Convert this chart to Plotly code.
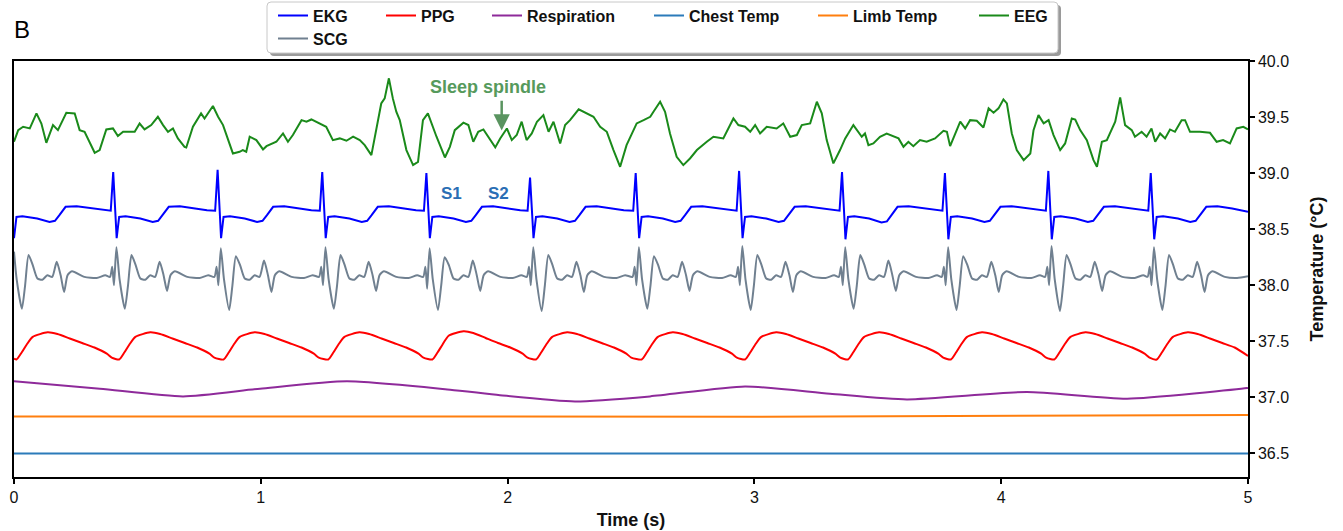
import plotly.graph_objects as go

FONT = "Liberation Sans, Arial, Helvetica, sans-serif"

# ---------------- data (time in s, values on the temperature axis in degC) ----------------
eeg_t = [0.000, 0.017, 0.037, 0.064, 0.091, 0.111, 0.131, 0.158, 0.178, 0.212, 0.246, 0.266, 0.286, 0.327, 0.347,
         0.374, 0.401, 0.421, 0.442, 0.489, 0.509, 0.529, 0.556, 0.583, 0.604, 0.624, 0.644, 0.664, 0.691, 0.698,
         0.725, 0.758, 0.772, 0.806, 0.827, 0.847, 0.887, 0.914, 0.927, 0.941, 0.955, 0.982, 1.009, 1.023, 1.063,
         1.090, 1.110, 1.130, 1.165, 1.185, 1.205, 1.225, 1.265, 1.292, 1.320, 1.347, 1.374, 1.401, 1.421, 1.448,
         1.468, 1.488, 1.502, 1.519, 1.535, 1.549, 1.563, 1.590, 1.617, 1.637, 1.657, 1.677,
         1.712, 1.746, 1.766, 1.786, 1.821, 1.841, 1.861, 1.881, 1.902, 1.922, 1.950, 1.970, 1.997, 2.017, 2.037,
         2.057, 2.077, 2.098, 2.119, 2.145, 2.166, 2.186, 2.213, 2.233, 2.253, 2.288, 2.314, 2.348, 2.375, 2.402,
         2.429, 2.456, 2.482, 2.523, 2.551, 2.578, 2.591, 2.618, 2.638, 2.658, 2.685, 2.712, 2.739, 2.767, 2.807,
         2.834, 2.874, 2.915, 2.935, 2.962, 2.983, 3.003, 3.023, 3.050, 3.090, 3.117, 3.145, 3.172, 3.192, 3.226,
         3.253, 3.273, 3.293, 3.320, 3.347,
         3.368, 3.401, 3.422, 3.435, 3.448, 3.462, 3.482, 3.509, 3.536, 3.564, 3.584, 3.604, 3.624, 3.644, 3.671,
         3.698, 3.732, 3.766, 3.780, 3.793, 3.813, 3.834, 3.854, 3.874, 3.901, 3.928, 3.949, 3.969, 3.989, 4.009,
         4.023, 4.043, 4.063, 4.091, 4.118, 4.131, 4.151, 4.172, 4.192, 4.212, 4.239, 4.259, 4.286, 4.300, 4.320,
         4.347, 4.374, 4.388, 4.408, 4.428, 4.462, 4.482, 4.502, 4.529, 4.542, 4.569, 4.589, 4.609, 4.624, 4.644,
         4.664, 4.684, 4.704, 4.731, 4.745, 4.765, 4.805, 4.846, 4.873, 4.899, 4.927, 4.954, 4.981, 5.000]
eeg_v = [39.280, 39.384, 39.414, 39.399, 39.533, 39.443, 39.271, 39.429, 39.384, 39.539, 39.533, 39.384, 39.369, 39.182, 39.206,
         39.390, 39.399, 39.331, 39.369, 39.369, 39.443, 39.390, 39.429, 39.503, 39.429, 39.369, 39.399, 39.310, 39.235, 39.229,
         39.414, 39.533, 39.488, 39.599, 39.503, 39.429, 39.176, 39.191, 39.206, 39.191, 39.325, 39.295, 39.212, 39.241, 39.280,
         39.354, 39.280, 39.340, 39.473, 39.459, 39.479, 39.459, 39.414, 39.295, 39.310, 39.289, 39.325, 39.295, 39.250, 39.161,
         39.384, 39.622, 39.667, 39.846, 39.667, 39.548, 39.473, 39.206, 39.072, 39.101, 39.473, 39.533,
         39.325, 39.140, 39.235, 39.384, 39.450, 39.429, 39.280, 39.369, 39.390, 39.325, 39.230, 39.310, 39.399, 39.295, 39.340,
         39.459, 39.295, 39.354, 39.459, 39.518, 39.369, 39.459, 39.265, 39.429, 39.473, 39.569, 39.539, 39.503, 39.414, 39.369,
         39.206, 39.057, 39.250, 39.444, 39.473, 39.503, 39.548, 39.637, 39.548, 39.354, 39.146, 39.072, 39.131, 39.206, 39.280,
         39.325, 39.310, 39.488, 39.429, 39.414, 39.369, 39.429, 39.354, 39.414, 39.399, 39.444, 39.325, 39.340, 39.429, 39.444,
         39.637, 39.533, 39.295, 39.087, 39.206,
         39.310, 39.429, 39.369, 39.325, 39.354, 39.250, 39.265, 39.325, 39.354, 39.325, 39.310, 39.235, 39.280, 39.241, 39.295,
         39.280, 39.310, 39.378, 39.369, 39.241, 39.354, 39.459, 39.399, 39.473, 39.468, 39.408, 39.578, 39.539, 39.578, 39.658,
         39.622, 39.354, 39.206, 39.116, 39.176, 39.384, 39.518, 39.444, 39.473, 39.340, 39.206, 39.265, 39.488, 39.479, 39.384,
         39.295, 39.116, 39.057, 39.280, 39.295, 39.459, 39.676, 39.429, 39.384, 39.325, 39.369, 39.325, 39.399, 39.280, 39.354,
         39.310, 39.390, 39.369, 39.473, 39.473, 39.369, 39.369, 39.360, 39.280, 39.295, 39.265, 39.399, 39.414, 39.390]

ekg_t = [0.000, 0.010, 0.034, 0.094, 0.144, 0.166, 0.184, 0.209, 0.254, 0.314, 0.364,
         0.392, 0.402, 0.416, 0.426, 0.452, 0.512, 0.562, 0.584, 0.602, 0.627, 0.672, 0.732, 0.782,
         0.815, 0.825, 0.839, 0.849, 0.875, 0.935, 0.985, 1.007, 1.025, 1.050, 1.095, 1.155, 1.205,
         1.239, 1.249, 1.263, 1.273, 1.299, 1.359, 1.409, 1.431, 1.449, 1.474, 1.519, 1.579, 1.629,
         1.661, 1.671, 1.685, 1.695, 1.721, 1.781, 1.831, 1.853, 1.871, 1.896, 1.941, 2.001, 2.051,
         2.081, 2.091, 2.105, 2.115, 2.141, 2.201, 2.251, 2.273, 2.291, 2.316, 2.361, 2.421, 2.471,
         2.509, 2.519, 2.533, 2.543, 2.569, 2.629, 2.679, 2.701, 2.719, 2.744, 2.789, 2.849, 2.899,
         2.928, 2.938, 2.952, 2.962, 2.988, 3.048, 3.098, 3.120, 3.138, 3.163, 3.208, 3.268, 3.318,
         3.345, 3.355, 3.369, 3.379, 3.405, 3.465, 3.515, 3.537, 3.555, 3.580, 3.625, 3.685, 3.735,
         3.762, 3.772, 3.786, 3.796, 3.822, 3.882, 3.932, 3.954, 3.972, 3.997, 4.042, 4.102, 4.152,
         4.181, 4.191, 4.205, 4.215, 4.241, 4.301, 4.351, 4.373, 4.391, 4.416, 4.461, 4.521, 4.571,
         4.596, 4.606, 4.620, 4.630, 4.656, 4.716, 4.766, 4.788, 4.806, 4.831, 4.876, 4.936, 5.000]
ekg_v = [38.42, 38.61, 38.615, 38.595, 38.565, 38.575, 38.625, 38.70, 38.705, 38.685, 38.67,
         38.665, 39.01, 38.42, 38.61, 38.615, 38.595, 38.565, 38.575, 38.625, 38.70, 38.705, 38.685, 38.67,
         38.665, 39.03, 38.42, 38.61, 38.615, 38.595, 38.565, 38.575, 38.625, 38.70, 38.705, 38.685, 38.67,
         38.665, 39.01, 38.42, 38.61, 38.615, 38.595, 38.565, 38.575, 38.625, 38.70, 38.705, 38.685, 38.67,
         38.665, 39.00, 38.42, 38.61, 38.615, 38.595, 38.565, 38.575, 38.625, 38.70, 38.705, 38.685, 38.67,
         38.665, 38.96, 38.42, 38.61, 38.615, 38.595, 38.565, 38.575, 38.625, 38.70, 38.705, 38.685, 38.67,
         38.665, 39.00, 38.42, 38.61, 38.615, 38.595, 38.565, 38.575, 38.625, 38.70, 38.705, 38.685, 38.67,
         38.665, 39.02, 38.42, 38.61, 38.615, 38.595, 38.565, 38.575, 38.625, 38.70, 38.705, 38.685, 38.67,
         38.665, 39.01, 38.41, 38.61, 38.615, 38.595, 38.560, 38.570, 38.625, 38.70, 38.705, 38.685, 38.67,
         38.665, 39.00, 38.41, 38.61, 38.615, 38.595, 38.565, 38.575, 38.625, 38.70, 38.705, 38.685, 38.67,
         38.665, 39.02, 38.41, 38.61, 38.615, 38.595, 38.565, 38.575, 38.625, 38.70, 38.705, 38.685, 38.67,
         38.665, 39.00, 38.41, 38.61, 38.615, 38.595, 38.565, 38.575, 38.625, 38.70, 38.705, 38.685, 38.655]

scg_t = [0.000, 0.011, 0.032, 0.045, 0.059, 0.076, 0.095, 0.115, 0.135, 0.155, 0.173, 0.189, 0.203, 0.217, 0.235, 0.285, 0.335, 0.370,
         0.389, 0.398, 0.405, 0.415, 0.428, 0.449, 0.462, 0.476, 0.493, 0.512, 0.532, 0.552, 0.572, 0.590, 0.606, 0.620, 0.634, 0.652, 0.702, 0.752, 0.787,
         0.812, 0.821, 0.828, 0.838, 0.851, 0.872, 0.885, 0.899, 0.916, 0.935, 0.955, 0.975, 0.995, 1.013, 1.029, 1.043, 1.057, 1.075, 1.125, 1.175, 1.210,
         1.236, 1.245, 1.252, 1.262, 1.275, 1.296, 1.309, 1.323, 1.340, 1.359, 1.379, 1.399, 1.419, 1.437, 1.453, 1.467, 1.481, 1.499, 1.549, 1.599, 1.634,
         1.658, 1.667, 1.674, 1.684, 1.697, 1.718, 1.731, 1.745, 1.762, 1.781, 1.801, 1.821, 1.841, 1.859, 1.875, 1.889, 1.903, 1.921, 1.971, 2.021, 2.056,
         2.078, 2.087, 2.094, 2.104, 2.117, 2.138, 2.151, 2.165, 2.182, 2.201, 2.221, 2.241, 2.261, 2.279, 2.295, 2.309, 2.323, 2.341, 2.391, 2.441, 2.476,
         2.506, 2.515, 2.522, 2.532, 2.545, 2.566, 2.579, 2.593, 2.610, 2.629, 2.649, 2.669, 2.689, 2.707, 2.723, 2.737, 2.751, 2.769, 2.819, 2.869, 2.904,
         2.925, 2.934, 2.941, 2.951, 2.964, 2.985, 2.998, 3.012, 3.029, 3.048, 3.068, 3.088, 3.108, 3.126, 3.142, 3.156, 3.170, 3.188, 3.238, 3.288, 3.323,
         3.342, 3.351, 3.358, 3.368, 3.381, 3.402, 3.415, 3.429, 3.446, 3.465, 3.485, 3.505, 3.525, 3.543, 3.559, 3.573, 3.587, 3.605, 3.655, 3.705, 3.740,
         3.759, 3.768, 3.775, 3.785, 3.798, 3.819, 3.832, 3.846, 3.863, 3.882, 3.902, 3.922, 3.942, 3.960, 3.976, 3.990, 4.004, 4.022, 4.072, 4.122, 4.157,
         4.178, 4.187, 4.194, 4.204, 4.217, 4.238, 4.251, 4.265, 4.282, 4.301, 4.321, 4.341, 4.361, 4.379, 4.395, 4.409, 4.423, 4.441, 4.491, 4.541, 4.576,
         4.593, 4.602, 4.609, 4.619, 4.632, 4.653, 4.666, 4.680, 4.697, 4.716, 4.736, 4.756, 4.776, 4.794, 4.810, 4.824, 4.838, 4.856, 4.906, 4.956, 5.000]
scg_v = [38.30, 38.05, 37.79, 38.00, 38.27, 38.18, 38.06, 38.05, 38.09, 38.075, 38.21, 38.09, 37.94, 38.09, 38.125, 38.075, 38.065, 38.09,
         38.075, 38.165, 38.00, 38.34, 38.05, 37.79, 38.00, 38.27, 38.18, 38.06, 38.05, 38.09, 38.075, 38.21, 38.09, 37.95, 38.09, 38.125, 38.075, 38.065, 38.09,
         38.075, 38.165, 38.00, 38.33, 38.05, 37.78, 38.00, 38.26, 38.18, 38.06, 38.05, 38.09, 38.075, 38.22, 38.09, 37.94, 38.09, 38.125, 38.075, 38.065, 38.09,
         38.075, 38.165, 38.00, 38.34, 38.05, 37.79, 38.00, 38.27, 38.18, 38.06, 38.05, 38.09, 38.075, 38.21, 38.09, 37.95, 38.09, 38.125, 38.075, 38.065, 38.09,
         38.075, 38.165, 37.97, 38.33, 38.05, 37.78, 38.00, 38.25, 38.18, 38.06, 38.05, 38.09, 38.075, 38.22, 38.09, 37.95, 38.09, 38.125, 38.075, 38.065, 38.09,
         38.075, 38.165, 38.00, 38.34, 38.05, 37.77, 38.00, 38.27, 38.18, 38.06, 38.05, 38.09, 38.075, 38.21, 38.09, 37.94, 38.09, 38.125, 38.075, 38.065, 38.09,
         38.075, 38.165, 38.00, 38.34, 38.05, 37.79, 38.00, 38.26, 38.18, 38.06, 38.05, 38.09, 38.075, 38.21, 38.09, 37.95, 38.09, 38.125, 38.075, 38.065, 38.09,
         38.075, 38.165, 38.00, 38.35, 38.05, 37.78, 38.00, 38.27, 38.18, 38.06, 38.05, 38.09, 38.075, 38.21, 38.09, 37.94, 38.09, 38.125, 38.075, 38.065, 38.09,
         38.075, 38.165, 38.00, 38.34, 38.05, 37.79, 38.00, 38.27, 38.18, 38.06, 38.05, 38.09, 38.075, 38.22, 38.09, 37.95, 38.09, 38.125, 38.075, 38.065, 38.09,
         38.075, 38.165, 38.00, 38.34, 38.05, 37.78, 38.00, 38.26, 38.18, 38.06, 38.05, 38.09, 38.075, 38.21, 38.09, 37.94, 38.09, 38.125, 38.075, 38.065, 38.09,
         38.075, 38.165, 38.00, 38.35, 38.05, 37.77, 38.00, 38.27, 38.18, 38.06, 38.05, 38.09, 38.075, 38.21, 38.09, 37.95, 38.09, 38.125, 38.075, 38.065, 38.09,
         38.075, 38.165, 38.00, 38.34, 38.05, 37.78, 38.00, 38.27, 38.18, 38.06, 38.05, 38.09, 38.075, 38.21, 38.09, 37.94, 38.09, 38.125, 38.075, 38.065, 38.08]

ppg_t = [0.000, 0.010, 0.031, 0.051, 0.076, 0.136, 0.176, 0.226, 0.276, 0.326, 0.376, 0.396,
         0.426, 0.447, 0.467, 0.492, 0.552, 0.592, 0.642, 0.692, 0.742, 0.792, 0.812,
         0.849, 0.870, 0.890, 0.915, 0.975, 1.015, 1.065, 1.115, 1.165, 1.215, 1.235,
         1.273, 1.294, 1.314, 1.339, 1.399, 1.439, 1.489, 1.539, 1.589, 1.639, 1.659,
         1.695, 1.716, 1.736, 1.761, 1.821, 1.861, 1.911, 1.961, 2.011, 2.061, 2.081,
         2.115, 2.136, 2.156, 2.181, 2.241, 2.281, 2.331, 2.381, 2.431, 2.481, 2.501,
         2.543, 2.564, 2.584, 2.609, 2.669, 2.709, 2.759, 2.809, 2.859, 2.909, 2.929,
         2.962, 2.983, 3.003, 3.028, 3.088, 3.128, 3.178, 3.228, 3.278, 3.328, 3.348,
         3.379, 3.400, 3.420, 3.445, 3.505, 3.545, 3.595, 3.645, 3.695, 3.745, 3.765,
         3.796, 3.817, 3.837, 3.862, 3.922, 3.962, 4.012, 4.062, 4.112, 4.162, 4.182,
         4.215, 4.236, 4.256, 4.281, 4.341, 4.381, 4.431, 4.481, 4.531, 4.581, 4.601,
         4.630, 4.651, 4.671, 4.696, 4.756, 4.796, 4.846, 4.896, 4.946, 5.000]
ppg_v = [37.345, 37.338, 37.40, 37.47, 37.54, 37.58, 37.565, 37.525, 37.485, 37.445, 37.39, 37.355,
         37.338, 37.40, 37.47, 37.54, 37.58, 37.565, 37.525, 37.485, 37.445, 37.39, 37.355,
         37.338, 37.40, 37.47, 37.54, 37.58, 37.565, 37.525, 37.485, 37.445, 37.39, 37.355,
         37.338, 37.40, 37.47, 37.54, 37.58, 37.565, 37.525, 37.485, 37.445, 37.39, 37.355,
         37.338, 37.40, 37.47, 37.55, 37.59, 37.575, 37.53, 37.485, 37.445, 37.39, 37.355,
         37.338, 37.40, 37.47, 37.54, 37.58, 37.565, 37.525, 37.485, 37.445, 37.39, 37.355,
         37.338, 37.40, 37.47, 37.54, 37.58, 37.565, 37.525, 37.485, 37.445, 37.39, 37.355,
         37.338, 37.40, 37.47, 37.54, 37.58, 37.565, 37.525, 37.485, 37.445, 37.39, 37.355,
         37.338, 37.40, 37.47, 37.54, 37.58, 37.565, 37.525, 37.485, 37.445, 37.39, 37.355,
         37.338, 37.40, 37.47, 37.54, 37.58, 37.565, 37.525, 37.485, 37.445, 37.39, 37.355,
         37.338, 37.40, 37.47, 37.54, 37.58, 37.565, 37.525, 37.485, 37.445, 37.39, 37.355,
         37.338, 37.40, 37.47, 37.54, 37.58, 37.565, 37.525, 37.485, 37.445, 37.37]

resp_t = [0.000, 0.348, 0.685, 0.997, 1.349, 1.767, 1.969, 2.273, 2.577, 2.962, 3.306, 3.618, 4.104, 4.510, 4.996, 5.000]
resp_v = [37.143, 37.078, 37.009, 37.078, 37.143, 37.069, 37.020, 36.964, 37.009, 37.098, 37.033, 36.982, 37.048, 36.988, 37.083, 37.085]

limb_t = [0.0, 1.0, 2.0, 3.0, 4.0, 5.0]
limb_v = [36.830, 36.832, 36.830, 36.828, 36.835, 36.842]

chest_t = [0.0, 2.5, 5.0]
chest_v = [36.500, 36.500, 36.500]

x_ticks = [0, 1, 2, 3, 4, 5]
y_ticks = [36.5, 37.0, 37.5, 38.0, 38.5, 39.0, 39.5, 40.0]

# ---------------- layout geometry ----------------
W, H = 1343, 531
ML, MR, MT, MB = 14, 95, 61, 54
PW, PH = W - ML - MR, H - MT - MB


def px(xp):
    return (xp - ML) / PW


def py(yp):
    return (H - MB - yp) / PH


fig = go.Figure()

series = [
    ("EKG", ekg_t, ekg_v, "#0000ff", "legend", "linear"),
    ("PPG", ppg_t, ppg_v, "#ff0000", "legend2", "spline"),
    ("Respiration", resp_t, resp_v, "#8e2a9a", "legend3", "spline"),
    ("Chest Temp", chest_t, chest_v, "#2b7bba", "legend4", "linear"),
    ("Limb Temp", limb_t, limb_v, "#ff7f0e", "legend5", "linear"),
    ("EEG", eeg_t, eeg_v, "#1a8a1a", "legend6", "linear"),
    ("SCG", scg_t, scg_v, "#708090", "legend7", "spline"),
]
for name, t, v, color, leg, shape in series:
    line = dict(color=color, width=2, shape=shape)
    if shape == "spline":
        line["smoothing"] = 0.6
    fig.add_trace(go.Scatter(x=t, y=v, mode="lines", name=name, line=line, legend=leg))

# legend positions (pixel left edge, pixel row centre)
legend_pos = {
    "legend": (273, 15.5), "legend2": (381, 15.5), "legend3": (487, 15.5),
    "legend4": (649, 15.5), "legend5": (813, 15.5), "legend6": (974, 15.5),
    "legend7": (273, 38.5),
}
legend_layout = {}
for key, (lx, ly) in legend_pos.items():
    legend_layout[key] = dict(
        xref="container", yref="container", x=lx / W, y=1 - ly / H,
        xanchor="left", yanchor="middle", orientation="h",
        bgcolor="rgba(0,0,0,0)", borderwidth=0,
        font=dict(family=FONT, size=16, color="#111111", weight="bold"),
    )


def rrect(x0, y0, x1, y1, r):
    return (f"M{px(x0 + r)},{py(y0)} L{px(x1 - r)},{py(y0)} Q{px(x1)},{py(y0)} {px(x1)},{py(y0 + r)} "
            f"L{px(x1)},{py(y1 - r)} Q{px(x1)},{py(y1)} {px(x1 - r)},{py(y1)} "
            f"L{px(x0 + r)},{py(y1)} Q{px(x0)},{py(y1)} {px(x0)},{py(y1 - r)} "
            f"L{px(x0)},{py(y0 + r)} Q{px(x0)},{py(y0)} {px(x0 + r)},{py(y0)} Z")


shapes = [
    dict(type="path", xref="paper", yref="paper", path=rrect(270, 5, 1061, 56, 4),
         fillcolor="#9a9a9a", line=dict(width=0), layer="above"),
    dict(type="path", xref="paper", yref="paper", path=rrect(267, 2, 1058, 53, 4),
         fillcolor="white", line=dict(color="#c8c8c8", width=1), layer="above"),
]

annotations = [
    dict(text="B", xref="paper", yref="paper", x=px(12), y=py(29), xanchor="left", yanchor="middle",
         showarrow=False, font=dict(family=FONT, size=24, color="black")),
    dict(text="Sleep spindle", x=1.921, y=39.77, xref="x", yref="y", showarrow=False,
         font=dict(family=FONT, size=18, color="#569a5c", weight="bold")),
    dict(text="", x=1.976, y=39.38, ax=1.976, ay=39.66, xref="x", yref="y", axref="x", ayref="y",
         showarrow=True, arrowhead=2, arrowsize=1.3, arrowwidth=2.5, arrowcolor="#5a9460"),
    dict(text="S1", x=1.771, y=38.82, xref="x", yref="y", showarrow=False,
         font=dict(family=FONT, size=17, color="#2a6eb4", weight="bold")),
    dict(text="S2", x=1.964, y=38.82, xref="x", yref="y", showarrow=False,
         font=dict(family=FONT, size=17, color="#2a6eb4", weight="bold")),
]

fig.update_layout(
    width=W, height=H,
    margin=dict(l=ML, r=MR, t=MT, b=MB, autoexpand=False),
    paper_bgcolor="white", plot_bgcolor="white",
    font=dict(family=FONT, size=16, color="#111111"),
    showlegend=True,
    shapes=shapes, annotations=annotations,
    xaxis=dict(range=[0, 5], tickvals=x_ticks, ticks="outside", ticklen=5, tickwidth=1.5,
               tickcolor="black", showline=True, linecolor="black", linewidth=1.5, mirror=True,
               showgrid=False, zeroline=False, automargin=False,
               tickfont=dict(family=FONT, size=16, color="#111111"),
               title=dict(text="Time (s)", standoff=8,
                          font=dict(family=FONT, size=18, color="#111111", weight="bold"))),
    yaxis=dict(range=[36.29, 40.0005], side="right", tickvals=y_ticks, tickformat=".1f",
               ticks="outside", ticklen=5, tickwidth=1.5, tickcolor="black",
               showline=True, linecolor="black", linewidth=1.5, mirror=True,
               showgrid=False, zeroline=False, automargin=False,
               tickfont=dict(family=FONT, size=16, color="#111111"),
               title=dict(text="Temperature (°C)", standoff=22,
                          font=dict(family=FONT, size=18, color="#111111", weight="bold"))),
    **legend_layout,
)

fig.write_html("out.html")
